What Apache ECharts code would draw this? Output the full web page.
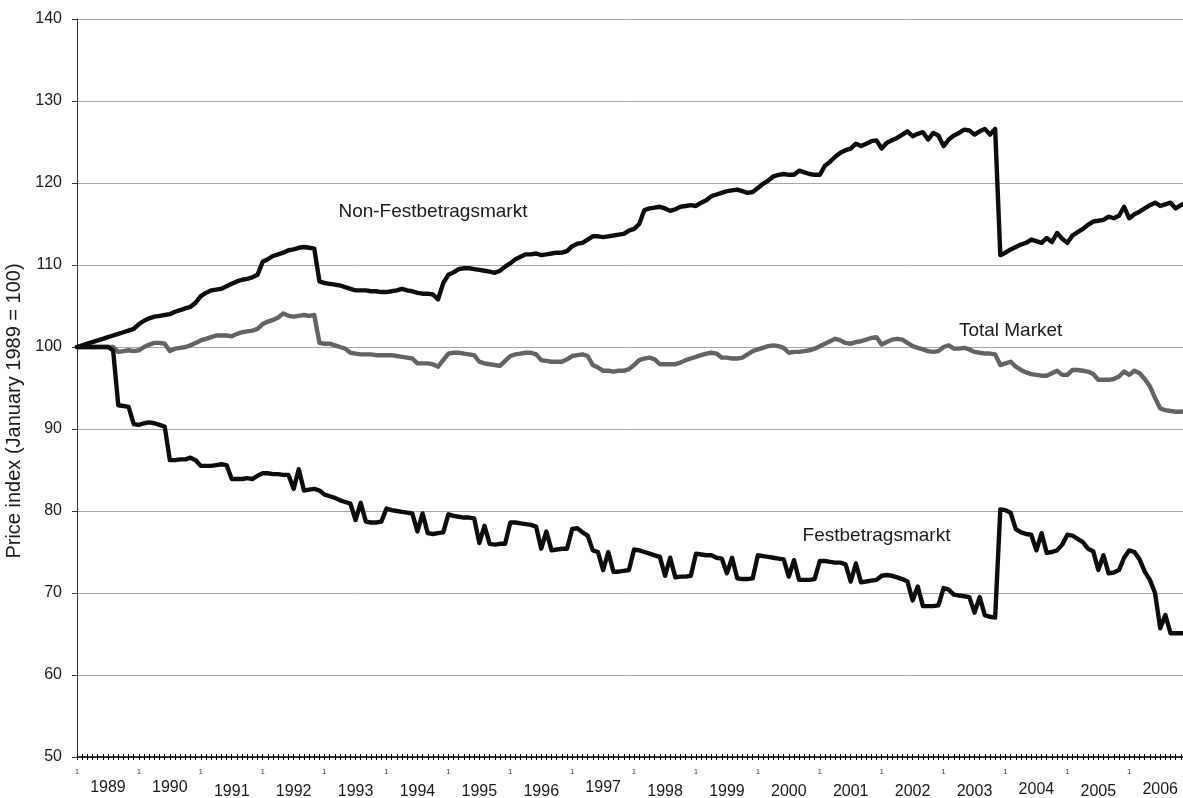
<!DOCTYPE html>
<html>
<head>
<meta charset="utf-8">
<title>Price index 1989-2006</title>
<script src="https://cdn.jsdelivr.net/npm/echarts@6/dist/echarts.min.js"></script>
<style>
  html, body { margin: 0; padding: 0; background: #fff; }
  #chart { width: 1183px; height: 798px; }
</style>
</head>
<body>
<div id="chart"></div>
<script>
// one category per month, Jan 1989 .. Dec 2006
const years = [1989, 1990, 1991, 1992, 1993, 1994, 1995, 1996, 1997,
  1998, 1999, 2000, 2001, 2002, 2003, 2004, 2005, 2006]
const months = []
years.forEach((y) => { for (let m = 1; m <= 12; m++) months.push(y + '-' + m) })

const yTicks = { min: 50, max: 140, step: 10 }

// monthly index values, one row per year
const nonFestbetrag = [
  100, 100.2, 100.4, 100.6, 100.8, 101.0, 101.2, 101.4, 101.6, 101.8, 102.0, 102.2,
  102.8, 103.2, 103.5, 103.7, 103.8, 103.9, 104.0, 104.3, 104.5, 104.7, 104.9, 105.4,
  106.2, 106.6, 106.9, 107.0, 107.1, 107.4, 107.7, 108.0, 108.2, 108.3, 108.5, 108.8,
  110.4, 110.7, 111.1, 111.3, 111.5, 111.8, 111.9, 112.1, 112.2, 112.1, 112.0, 108.0,
  107.8, 107.7, 107.6, 107.5, 107.3, 107.1, 106.9, 106.9, 106.9, 106.8, 106.8, 106.7,
  106.7, 106.8, 106.9, 107.1, 106.9, 106.8, 106.6, 106.5, 106.5, 106.4, 105.8, 107.8,
  108.8, 109.1, 109.5, 109.6, 109.6, 109.5, 109.4, 109.3, 109.2, 109.05, 109.3, 109.8,
  110.2, 110.7, 111.0, 111.3, 111.3, 111.4, 111.2, 111.3, 111.4, 111.5, 111.5, 111.7,
  112.3, 112.6, 112.7, 113.1, 113.5, 113.5, 113.4, 113.5, 113.6, 113.7, 113.8, 114.2,
  114.4, 115.0, 116.7, 116.9, 117.0, 117.1, 116.9, 116.6, 116.8, 117.1, 117.2, 117.3,
  117.2, 117.6, 117.9, 118.4, 118.6, 118.8, 119.0, 119.1, 119.2, 119.0, 118.8, 118.9,
  119.4, 119.9, 120.3, 120.8, 121.0, 121.1, 121.0, 121.0, 121.5, 121.3, 121.1, 121.0,
  121.0, 122.1, 122.6, 123.2, 123.7, 124.0, 124.2, 124.8, 124.5, 124.8, 125.1, 125.2,
  124.2, 124.9, 125.2, 125.5, 125.9, 126.3, 125.7, 126.0, 126.2, 125.3, 126.1, 125.8,
  124.5, 125.3, 125.8, 126.1, 126.5, 126.4, 125.9, 126.3, 126.6, 125.9, 126.6, 111.2,
  111.5, 111.9, 112.2, 112.5, 112.7, 113.1, 112.9, 112.7, 113.3, 112.8, 113.9, 113.2,
  112.7, 113.6, 114.0, 114.4, 114.9, 115.3, 115.4, 115.5, 115.9, 115.7, 116.0, 117.1,
  115.7, 116.2, 116.5, 116.9, 117.3, 117.6, 117.2, 117.4, 117.6, 116.9, 117.3, 117.6
]

const totalMarket = [
  100, 100, 100, 100, 100, 100, 100, 100, 99.4, 99.5, 99.6, 99.5,
  99.6, 100.0, 100.3, 100.5, 100.5, 100.4, 99.5, 99.8, 99.9, 100.0, 100.2, 100.5,
  100.8, 101.0, 101.2, 101.4, 101.4, 101.4, 101.3, 101.6, 101.8, 101.9, 102.0, 102.2,
  102.8, 103.1, 103.3, 103.6, 104.1, 103.8, 103.7, 103.8, 103.9, 103.8, 103.9, 100.5,
  100.4, 100.4, 100.2, 100.0, 99.8, 99.3, 99.2, 99.1, 99.1, 99.1, 99.0, 99.0,
  99.0, 99.0, 98.9, 98.8, 98.7, 98.6, 98.0, 98.0, 98.0, 97.9, 97.6, 98.4,
  99.2, 99.3, 99.3, 99.2, 99.1, 99.0, 98.2, 98.0, 97.9, 97.8, 97.7, 98.3,
  98.9, 99.1, 99.2, 99.3, 99.3, 99.1, 98.4, 98.3, 98.2, 98.2, 98.2, 98.5,
  98.9, 99.0, 99.1, 98.9, 97.8, 97.5, 97.1, 97.1, 97.0, 97.1, 97.1, 97.3,
  97.8, 98.4, 98.6, 98.7, 98.5, 97.9, 97.9, 97.9, 97.9, 98.1, 98.4, 98.6,
  98.8, 99.0, 99.2, 99.3, 99.2, 98.7, 98.7, 98.6, 98.6, 98.7, 99.1, 99.5,
  99.7, 99.9, 100.1, 100.2, 100.1, 99.9, 99.3, 99.4, 99.4, 99.5, 99.6, 99.8,
  100.1, 100.4, 100.7, 101.0, 100.8, 100.5, 100.4, 100.6, 100.7, 100.9, 101.1, 101.2,
  100.3, 100.6, 100.9, 101.0, 100.9, 100.5, 100.1, 99.9, 99.7, 99.5, 99.4, 99.5,
  100.0, 100.2, 99.8, 99.8, 99.9, 99.7, 99.4, 99.3, 99.2, 99.2, 99.1, 97.8,
  98.0, 98.2, 97.6, 97.2, 96.9, 96.7, 96.6, 96.5, 96.5, 96.8, 97.1, 96.6,
  96.6, 97.2, 97.2, 97.1, 97.0, 96.7, 96.0, 96.0, 96.0, 96.1, 96.4, 97.0,
  96.6, 97.1, 96.8, 96.1, 95.2, 93.8, 92.5, 92.3, 92.2, 92.1, 92.1, 92.2
]

const festbetrag = [
  100, 100, 100, 100, 100, 100, 100, 99.6, 92.9, 92.8, 92.7, 90.6,
  90.5, 90.7, 90.8, 90.7, 90.5, 90.3, 86.2, 86.2, 86.3, 86.3, 86.5, 86.2,
  85.5, 85.5, 85.5, 85.6, 85.7, 85.6, 83.9, 83.9, 83.9, 84.0, 83.9, 84.3,
  84.6, 84.6, 84.5, 84.5, 84.4, 84.4, 82.7, 85.1, 82.5, 82.6, 82.7, 82.5,
  82.0, 81.8, 81.6, 81.3, 81.1, 80.9, 78.9, 81.0, 78.7, 78.6, 78.6, 78.7,
  80.3, 80.1, 80.0, 79.9, 79.8, 79.7, 77.5, 79.7, 77.3, 77.2, 77.3, 77.4,
  79.6, 79.4, 79.3, 79.2, 79.2, 79.1, 76.1, 78.2, 76.0, 75.9, 76.0, 76.0,
  78.6, 78.6, 78.5, 78.4, 78.3, 78.1, 75.4, 77.5, 75.2, 75.3, 75.4, 75.4,
  77.8, 77.9, 77.4, 77.0, 75.2, 75.0, 72.8, 75.0, 72.6, 72.6, 72.7, 72.8,
  75.3, 75.2, 75.0, 74.8, 74.6, 74.4, 72.1, 74.3, 71.9, 72.0, 72.0, 72.1,
  74.8, 74.7, 74.6, 74.6, 74.3, 74.2, 72.4, 74.3, 71.8, 71.7, 71.7, 71.8,
  74.6, 74.5, 74.4, 74.3, 74.2, 74.1, 72.0, 74.0, 71.6, 71.6, 71.6, 71.7,
  73.9, 73.9, 73.8, 73.7, 73.7, 73.5, 71.4, 73.6, 71.3, 71.4, 71.5, 71.6,
  72.1, 72.2, 72.1, 71.9, 71.7, 71.4, 69.1, 70.8, 68.4, 68.4, 68.4, 68.5,
  70.6, 70.4, 69.8, 69.7, 69.6, 69.5, 67.6, 69.5, 67.3, 67.1, 67.0, 80.2,
  80.1, 79.8, 77.8, 77.4, 77.2, 77.1, 75.2, 77.3, 74.9, 75.0, 75.2, 75.9,
  77.1, 77.0, 76.6, 76.2, 75.4, 75.1, 72.8, 74.6, 72.4, 72.5, 72.8, 74.3,
  75.2, 75.0, 74.1, 72.6, 71.6, 70.0, 65.7, 67.3, 65.1, 65.1, 65.1, 65.1
]

const FONT = '"Liberation Sans", Arial, sans-serif'
const INK = '#1a1a1a'

// the year captions sit at slightly uneven heights in the original
const yearShift = { 1989: 0, 1990: 0, 1997: 0, 2004: 2, 2006: 2 }

function lineSeries(name, data, color, labelAt) {
  return {
    name,
    type: 'line',
    data,
    symbol: 'none',
    lineStyle: { color, width: 4.4, cap: 'round', join: 'round' },
    markPoint: {
      symbol: 'circle',
      symbolSize: 0,
      silent: true,
      label: { show: true, formatter: '{b}', color: INK, fontSize: 19, fontFamily: FONT },
      data: [{ name, coord: labelAt }],
    },
  }
}

const chart = echarts.init(document.getElementById('chart'))
chart.setOption({
  animation: false,
  backgroundColor: '#fff',
  textStyle: { fontFamily: FONT },
  grid: { left: 77, right: -3, top: 19, bottom: 41, outerBoundsMode: 'none', containLabel: false },
  xAxis: [
    {
      type: 'category',
      data: months,
      boundaryGap: false,
      axisLine: { lineStyle: { color: '#000', width: 1.5 } },
      axisTick: { interval: 0, length: 3, lineStyle: { color: '#000' } },
      axisLabel: {
        interval: (i) => i % 12 === 0,
        formatter: () => '1',
        fontSize: 8,
        color: '#444',
        margin: 11,
      },
      splitLine: { show: false },
    },
    {
      type: 'category',
      data: months,
      boundaryGap: false,
      position: 'bottom',
      axisLine: { show: false },
      axisTick: { show: true, inside: true, interval: 0, length: 3, lineStyle: { color: '#000' } },
      axisLabel: {
        interval: (i) => i % 12 === 6,
        formatter: (v) => {
          const y = v.slice(0, 4)
          const s = y in yearShift ? yearShift[y] : 4
          return '{s' + s + '|' + y + '}'
        },
        rich: {
          s0: { fontSize: 16, color: INK, padding: [0, 0, 0, 0] },
          s2: { fontSize: 16, color: INK, padding: [2, 0, 0, 0] },
          s4: { fontSize: 16, color: INK, padding: [4, 0, 0, 0] },
        },
        fontSize: 16,
        color: INK,
        margin: 23,
      },
      splitLine: { show: false },
    },
  ],
  yAxis: {
    type: 'value',
    min: yTicks.min,
    max: yTicks.max,
    interval: yTicks.step,
    name: 'Price index (January 1989 = 100)',
    nameLocation: 'middle',
    nameGap: 48,
    nameTextStyle: { fontSize: 20, color: INK, padding: [0, 46, 0, 0] },
    axisLine: { show: true, lineStyle: { color: '#333', width: 1 } },
    axisTick: { show: true, length: 5, lineStyle: { color: '#333' } },
    axisLabel: { fontSize: 16, color: INK, margin: 15 },
    splitLine: { lineStyle: { color: '#a6a6a6', width: 1 } },
  },
  series: [
    lineSeries('Total Market', totalMarket, '#636363', ['2004-2', 102]),
    lineSeries('Non-Festbetragsmarkt', nonFestbetrag, '#0d0d0d', ['1994-10', 116.5]),
    lineSeries('Festbetragsmarkt', festbetrag, '#0d0d0d', ['2001-12', 77]),
  ],
})
</script>
</body>
</html>
